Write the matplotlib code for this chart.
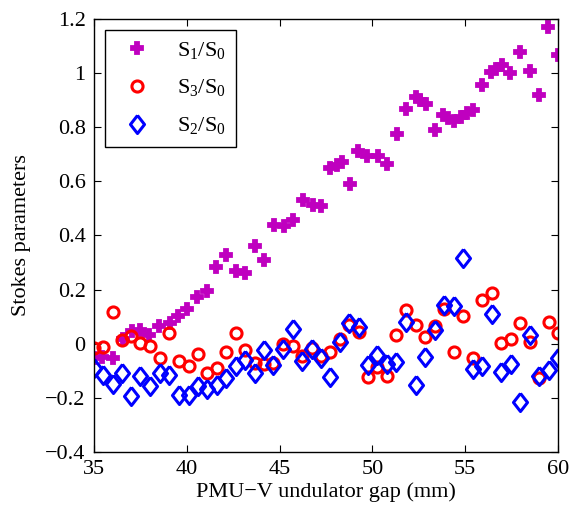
import numpy as np
import matplotlib
matplotlib.use('Agg')
import matplotlib.pyplot as plt
from matplotlib.ticker import FuncFormatter

# gap values (mm) and the Stokes parameters
gap_s1 = [35.0, 35.45, 36.0, 36.55, 37.03, 37.5, 37.98, 38.5, 39.08, 39.5,
          40.0, 40.55, 41.1, 41.57, 42.1, 42.65, 43.15, 43.67, 44.16, 44.7,
          45.24, 45.74, 46.24, 46.78, 47.21, 47.72, 48.07, 48.34, 48.78, 49.24,
          49.69, 50.32, 50.78, 51.31, 51.83, 52.35, 52.56, 52.89, 53.37, 53.82,
          54.09, 54.4, 54.76, 55.08, 55.44, 55.89, 56.37, 56.66, 56.97, 57.41,
          57.95, 58.49, 58.99, 59.48, 60.02]
s1 = [-0.053, -0.05, -0.052, 0.018, 0.046, 0.052, 0.033, 0.065, 0.076, 0.103,
      0.13, 0.172, 0.193, 0.283, 0.326, 0.267, 0.261, 0.36, 0.308, 0.437,
      0.434, 0.458, 0.53, 0.514, 0.51, 0.649, 0.661, 0.672, 0.591, 0.711,
      0.692, 0.692, 0.664, 0.776, 0.867, 0.912, 0.899, 0.887, 0.791, 0.846,
      0.834, 0.822, 0.838, 0.853, 0.865, 0.957, 1.005, 1.015, 1.031, 1.0,
      1.077, 1.006, 0.92, 1.17, 1.068]

gap = [35.0, 35.5, 36.0, 36.5, 37.0, 37.5, 38.0, 38.55, 39.05, 39.6,
       40.1, 40.6, 41.1, 41.6, 42.1, 42.63, 43.14, 43.67, 44.16, 44.66,
       45.18, 45.72, 46.19, 46.73, 47.21, 47.72, 48.25, 48.76, 49.26, 49.76,
       50.27, 50.77, 51.29, 51.82, 52.35, 52.84, 53.35, 53.86, 54.4, 54.9,
       55.4, 55.91, 56.43, 56.93, 57.45, 57.95, 58.49, 58.99, 59.5, 60.0]
s3 = [-0.016, -0.012, 0.117, 0.015, 0.027, 0.003, -0.007, -0.053, 0.039, -0.065,
      -0.084, -0.038, -0.108, -0.09, -0.032, 0.039, -0.025, -0.07, -0.074, -0.07,
      -0.002, -0.01, -0.045, -0.016, -0.045, -0.03, 0.019, 0.07, 0.044, -0.122,
      -0.085, -0.12, 0.031, 0.126, 0.07, 0.026, 0.065, 0.13, -0.031, 0.101,
      -0.051, 0.163, 0.188, 0.002, 0.017, 0.076, 0.006, -0.125, 0.08, 0.04]
s2 = [-0.09, -0.115, -0.148, -0.108, -0.195, -0.121, -0.158, -0.108, -0.115, -0.188,
      -0.188, -0.158, -0.166, -0.152, -0.127, -0.084, -0.059, -0.11, -0.025, -0.08,
      -0.021, 0.054, -0.064, -0.021, -0.053, -0.123, 0.005, 0.076, 0.062, -0.078,
      -0.041, -0.074, -0.069, 0.082, -0.152, -0.049, 0.052, 0.144, 0.14, 0.317,
      -0.094, -0.084, 0.111, -0.104, -0.074, -0.217, 0.033, -0.121, -0.097, -0.053]

yticks = [-0.4, -0.2, 0, 0.2, 0.4, 0.6, 0.8, 1, 1.2]
xticks = [35, 40, 45, 50, 55, 60]

plt.rcParams['font.family'] = ['Liberation Serif', 'DejaVu Serif']
plt.rcParams['mathtext.fontset'] = 'custom'
plt.rcParams['mathtext.rm'] = 'Liberation Serif'
plt.rcParams['font.size'] = 16

# slightly narrow diamond like the original markers
diamond = [(0, 1), (0.78, 0), (0, -1), (-0.78, 0), (0, 1)]

fig = plt.figure(figsize=(5.73, 5.13), dpi=100)
ax = fig.add_axes([0.164, 0.119, 0.810, 0.844])

ax.plot(gap_s1, s1, linestyle='none', marker='P', markersize=9,
        color='#bf00bf', markeredgecolor='#bf00bf', markeredgewidth=1.3,
        label='S$_1$/S$_0$')
ax.plot(gap, s3, linestyle='none', marker='o', markersize=8,
        markerfacecolor='none', markeredgecolor='red', markeredgewidth=2.2,
        label='S$_3$/S$_0$')
ax.plot(gap, s2, linestyle='none', marker=diamond, markersize=13,
        markerfacecolor='none', markeredgecolor='blue', markeredgewidth=2.2,
        label='S$_2$/S$_0$')

ax.set_xlim(35, 60)
ax.set_ylim(-0.4, 1.2)
ax.set_xticks(xticks)
ax.set_yticks(yticks)
ax.yaxis.set_major_formatter(FuncFormatter(lambda v, p: ('%g' % round(v, 2)).replace('-', '\u2212')))
ax.tick_params(direction='in', top=True, right=True, length=5, width=0.8, pad=6)
for sp in ax.spines.values():
    sp.set_linewidth(1.0)

ax.set_xlabel('PMU\u2212V undulator gap (mm)', labelpad=2)
ax.set_ylabel('Stokes parameters', labelpad=10)

leg = ax.legend(loc='upper left', numpoints=1, fancybox=False, framealpha=1,
                edgecolor='black', borderaxespad=0.5, handlelength=2.0,
                handletextpad=0.8, labelspacing=0.72, borderpad=0.45)
leg.get_frame().set_linewidth(1.0)

fig.savefig('out.png', dpi=100)
